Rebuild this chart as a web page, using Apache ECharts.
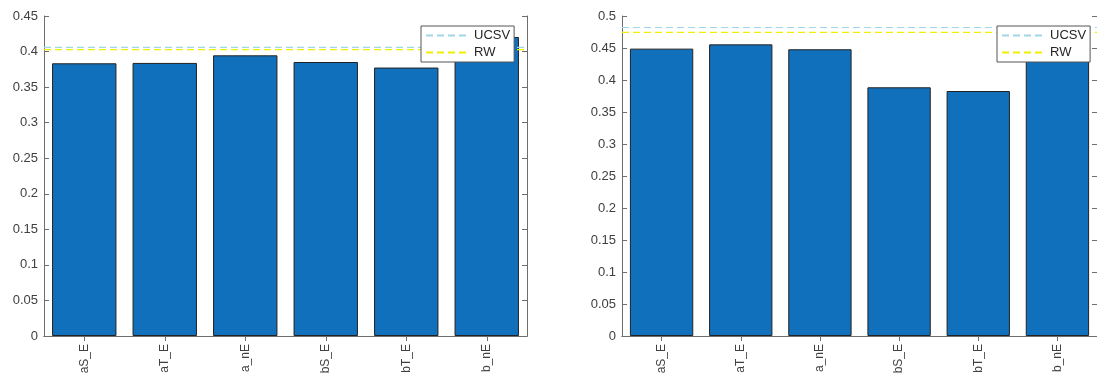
<!DOCTYPE html>
<html>
<head>
<meta charset="utf-8">
<script src="https://cdn.jsdelivr.net/npm/echarts@6/dist/echarts.min.js"></script>
<style>
html,body{margin:0;padding:0;background:#fff;}
#c{width:1097px;height:378px;}
</style>
</head>
<body>
<div id="c"></div>
<script>
const categories = ['aS_E', 'aT_E', 'a_nE', 'bS_E', 'bT_E', 'b_nE'];
const leftValues = [0.3835, 0.384, 0.3947, 0.3853, 0.3775, 0.4205];
const rightValues = [0.449, 0.4557, 0.448, 0.3886, 0.3828, 0.479];
const leftUCSV = 0.406;
const leftRW = 0.4028;
const rightUCSV = 0.482;
const rightRW = 0.4745;
const leftTicks = {min: 0, max: 0.45, interval: 0.05};
const rightTicks = {min: 0, max: 0.5, interval: 0.05};
const spanX = [0, 1];

const FONT = '"Liberation Sans", Arial, sans-serif';
const AXIS_COLOR = '#6e6e6e';
const LABEL_COLOR = '#404040';
const UCSV_COLOR = '#9fd8e4';
const RW_COLOR = '#f0f000';

const chart = echarts.init(document.getElementById('c'), null, {renderer: 'canvas'});

function grids() {
  return [
    {left: 44, top: 16, width: 483, height: 320, containLabel: false},
    {left: 622, top: 16, width: 483, height: 320, containLabel: false}
  ];
}

// x axes: per grid -> [bottom category, top category, hidden value span]
function xAxes() {
  const axes = [];
  [0, 1].forEach(g => {
    axes.push({
      type: 'category', gridIndex: g, data: categories, position: 'bottom',
      axisLine: {show: true, lineStyle: {color: AXIS_COLOR, width: 1}},
      axisTick: {show: true, inside: true, alignWithLabel: true, length: 5, lineStyle: {color: AXIS_COLOR}},
      axisLabel: {rotate: 90, fontSize: 12, color: LABEL_COLOR, fontFamily: FONT, margin: 8}
    });
    axes.push({
      type: 'category', gridIndex: g, data: categories, position: 'top',
      axisLine: {show: true, lineStyle: {color: AXIS_COLOR, width: 1}},
      axisTick: {show: true, inside: true, alignWithLabel: true, length: 5, lineStyle: {color: AXIS_COLOR}},
      axisLabel: {show: false}
    });
    axes.push({
      type: 'value', gridIndex: g, min: spanX[0], max: spanX[1], show: false
    });
  });
  return axes;
}

function yAxes() {
  const axes = [];
  [leftTicks, rightTicks].forEach((t, g) => {
    axes.push({
      type: 'value', gridIndex: g, position: 'left', min: t.min, max: t.max, interval: t.interval,
      axisLine: {show: true, lineStyle: {color: AXIS_COLOR, width: 1}},
      axisTick: {show: true, inside: true, length: 5, lineStyle: {color: AXIS_COLOR}},
      axisLabel: {fontSize: 13, color: LABEL_COLOR, fontFamily: FONT, margin: 6},
      splitLine: {show: false}
    });
    axes.push({
      type: 'value', gridIndex: g, position: 'right', min: t.min, max: t.max, interval: t.interval,
      axisLine: {show: true, lineStyle: {color: AXIS_COLOR, width: 1}},
      axisTick: {show: true, inside: true, length: 5, lineStyle: {color: AXIS_COLOR}},
      axisLabel: {show: false},
      splitLine: {show: false}
    });
  });
  return axes;
}

function barSeries(values, g) {
  return {
    type: 'bar', name: 'bars' + g, xAxisIndex: g * 3, yAxisIndex: g * 2,
    data: values, barCategoryGap: '20%',
    itemStyle: {color: '#1170bb', borderColor: '#222222', borderWidth: 1},
    silent: true, z: 2
  };
}

function refSeries(name, value, color, g) {
  return {
    type: 'line', name: name, xAxisIndex: g * 3 + 2, yAxisIndex: g * 2,
    data: [[spanX[0], value], [spanX[1], value]],
    symbol: 'none', showSymbol: false, silent: true,
    color: color,
    lineStyle: {color: color, width: 1.2, type: [7, 4]},
    z: 3
  };
}

function legend(left) {
  return {
    orient: 'vertical', left: left, top: 26,
    data: ['UCSV', 'RW'],
    backgroundColor: '#ffffff', borderColor: '#555555', borderWidth: 1,
    padding: [3, 4, 3, 4], itemGap: 4, itemWidth: 43, itemHeight: 12,
    itemStyle: {opacity: 0, color: 'rgba(0,0,0,0)', borderWidth: 0},
    textStyle: {fontSize: 13, color: '#262626', fontFamily: FONT},
    selectedMode: false, z: 10
  };
}

chart.setOption({
  animation: false,
  backgroundColor: '#ffffff',
  textStyle: {fontFamily: FONT},
  grid: grids(),
  xAxis: xAxes(),
  yAxis: yAxes(),
  legend: [legend(421), legend(997)],
  series: [
    barSeries(leftValues, 0),
    refSeries('UCSV', leftUCSV, UCSV_COLOR, 0),
    refSeries('RW', leftRW, RW_COLOR, 0),
    barSeries(rightValues, 1),
    refSeries('UCSV', rightUCSV, UCSV_COLOR, 1),
    refSeries('RW', rightRW, RW_COLOR, 1)
  ]
});
</script>
</body>
</html>
